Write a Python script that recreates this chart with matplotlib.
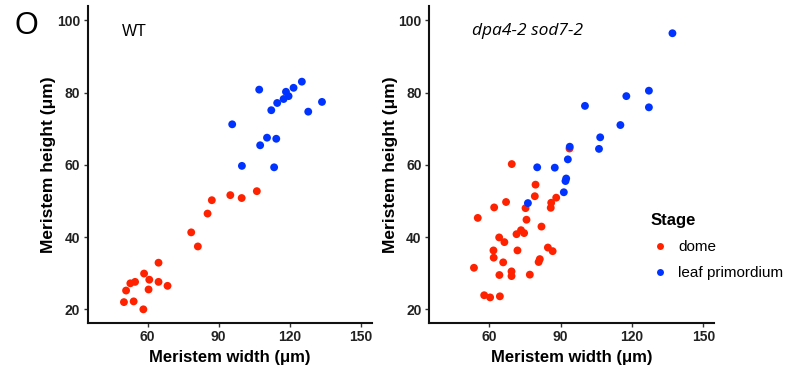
import matplotlib
matplotlib.use("Agg")
import matplotlib.pyplot as plt
from matplotlib.lines import Line2D

# WT panel
wt_dome_w = [50.0, 50.9, 52.7, 54.7, 54.1, 58.5, 58.2, 60.7, 60.4, 64.6, 64.6, 68.4,
             78.4, 81.2, 85.3, 87.1, 94.9, 99.7, 106.1]
wt_dome_h = [22.0, 25.2, 27.2, 27.6, 22.2, 29.9, 20.0, 28.2, 25.5, 32.9, 27.6, 26.5,
             41.3, 37.4, 46.5, 50.2, 51.6, 50.8, 52.7]
wt_leaf_w = [95.7, 99.8, 107.1, 107.5, 110.4, 112.2, 113.4, 114.3, 114.7, 117.4,
             118.4, 119.5, 121.6, 125.1, 127.8, 133.6]
wt_leaf_h = [71.2, 59.7, 80.8, 65.4, 67.5, 75.1, 59.3, 67.2, 77.1, 78.2,
             80.2, 79.0, 81.3, 83.0, 74.7, 77.4]

# dpa4-2 sod7-2 panel
mut_dome_w = [93.7, 69.4, 79.4, 79.1, 88.1, 86.0, 85.8, 67.0, 62.0, 75.2, 55.1, 75.6,
              81.9, 71.4, 73.3, 74.6, 64.1, 66.3, 71.8, 84.6, 86.6, 61.7, 61.8, 65.8,
              81.2, 80.7, 53.5, 64.2, 69.3, 69.3, 77.0, 57.8, 60.3, 64.4]
mut_dome_h = [64.5, 60.2, 54.5, 51.3, 50.9, 49.5, 48.1, 49.7, 48.2, 48.0, 45.3, 44.8,
              42.9, 40.8, 41.9, 41.1, 39.9, 38.6, 36.3, 37.1, 36.1, 36.3, 34.3, 33.0,
              33.9, 33.1, 31.5, 29.5, 30.5, 29.2, 29.6, 23.9, 23.3, 23.6]
mut_leaf_w = [137.0, 127.1, 127.1, 117.6, 100.2, 115.1, 106.6, 106.1, 93.8, 93.0,
              92.3, 92.0, 91.3, 87.5, 80.1, 76.2]
mut_leaf_h = [96.4, 80.5, 75.9, 79.0, 76.3, 71.0, 67.6, 64.4, 65.0, 61.5,
              56.2, 55.5, 52.4, 59.2, 59.3, 49.4]

x_ticks = [60, 90, 120, 150]
y_ticks = [20, 40, 60, 80, 100]
stages = ["dome", "leaf primordium"]
colors = {"dome": "#ff2200", "leaf primordium": "#0033ff"}

plt.rcParams["font.family"] = ["Liberation Sans", "DejaVu Sans"]

fig = plt.figure(figsize=(8.06, 3.72), dpi=100)
ax1 = fig.add_axes([0.1088, 0.1325, 0.3524, 0.851])
ax2 = fig.add_axes([0.5326, 0.1325, 0.3536, 0.851])


def style_axes(ax):
    ax.set_xlim(34.7, 154.6)
    ax.set_ylim(16.3, 103.9)
    ax.set_xticks(x_ticks)
    ax.set_yticks(y_ticks)
    for side in ("top", "right"):
        ax.spines[side].set_visible(False)
    for side in ("left", "bottom"):
        ax.spines[side].set_linewidth(1.5)
        ax.spines[side].set_color("#111111")
    ax.tick_params(direction="out", length=3, width=1.0, color="#333333",
                   labelsize=10, pad=2.5)
    for lab in ax.get_xticklabels() + ax.get_yticklabels():
        lab.set_fontweight("bold")
        lab.set_color("#222222")
    ax.set_xlabel("Meristem width (μm)", fontsize=12, fontweight="bold", labelpad=4)
    ax.set_ylabel("Meristem height (μm)", fontsize=12.5, fontweight="bold", labelpad=0.5)


for ax, dw, dh, lw, lh in [(ax1, wt_dome_w, wt_dome_h, wt_leaf_w, wt_leaf_h),
                           (ax2, mut_dome_w, mut_dome_h, mut_leaf_w, mut_leaf_h)]:
    ax.scatter(dw, dh, s=32, color=colors["dome"], edgecolors="none", zorder=3)
    ax.scatter(lw, lh, s=32, color=colors["leaf primordium"], edgecolors="none", zorder=3)
    style_axes(ax)

ax1.text(0.12, 0.92, "WT", transform=ax1.transAxes, fontsize=11.5, va="center")
ax2.text(0.15, 0.92, "dpa4-2 sod7-2", transform=ax2.transAxes, fontsize=12.5,
         style="italic", family=["Open Sans", "DejaVu Sans"], va="center")

fig.text(0.018, 0.93, "O", fontsize=22, va="center")

handles = [Line2D([], [], marker="o", linestyle="none", markersize=5,
                  markerfacecolor=colors[s], markeredgecolor="none") for s in stages]
leg = fig.legend(handles, stages, title="Stage", loc="upper left",
                 bbox_to_anchor=(0.79, 0.465), frameon=False,
                 handletextpad=0.6, labelspacing=0.8, handlelength=1.2,
                 prop={"size": 11})
leg.get_title().set_fontweight("bold")
leg.get_title().set_fontsize(12)
leg._legend_box.align = "left"

fig.savefig("out.png", dpi=100)
